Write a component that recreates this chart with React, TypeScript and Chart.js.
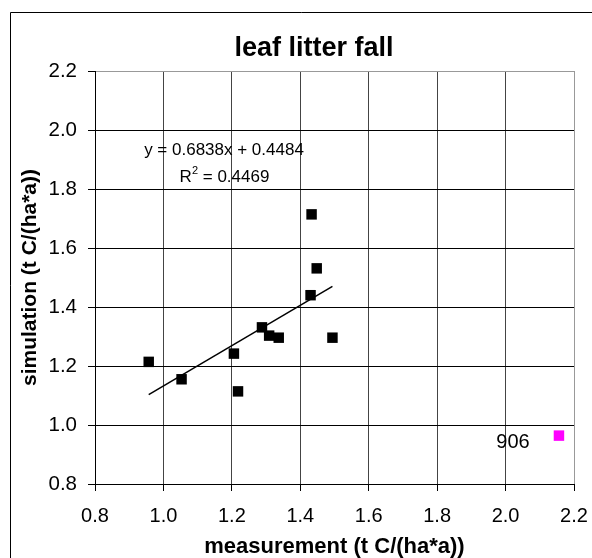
import React, { useEffect, useRef } from 'react';
import { Chart, registerables } from 'chart.js';

Chart.register(...registerables);

const FONT = "'Liberation Sans', Arial, sans-serif";

const chartTitle = 'leaf litter fall';
const xAxisTitle = 'measurement (t C/(ha*a))';
const yAxisTitle = 'simulation (t C/(ha*a))';
const equationText = 'y = 0.6838x + 0.4484';
const r2Value = '0.4469';

// measured vs simulated points (black squares)
const measurement = [1.433, 1.448, 1.430, 1.288, 1.309, 1.337, 1.494, 1.206, 0.957, 1.053, 1.218];
const simulation = [1.714, 1.531, 1.440, 1.331, 1.303, 1.296, 1.296, 1.242, 1.214, 1.155, 1.114];

// labelled outlier (magenta square)
const outlierX = [2.156];
const outlierY = [0.964];
const outlierLabels = ['906'];

// linear trend line end points
const trendX = [0.957, 1.494];
const trendY = [1.103, 1.470];

const axisMin = 0.8;
const axisMax = 2.2;
const axisStep = 0.2;

const isTop = (v: number) => Math.abs(v - axisMax) < 1e-6;

const decorPlugin = {
  id: 'decor',
  afterDraw(chart: any) {
    const ctx = chart.ctx as CanvasRenderingContext2D;
    ctx.save();
    // outer frame
    ctx.strokeStyle = '#000';
    ctx.lineWidth = 1;
    ctx.beginPath();
    ctx.moveTo(10.5, 560);
    ctx.lineTo(10.5, 12.5);
    ctx.lineTo(600, 12.5);
    ctx.stroke();

    ctx.fillStyle = '#000';
    ctx.textBaseline = 'alphabetic';

    // title
    ctx.font = `bold 27px ${FONT}`;
    ctx.textAlign = 'center';
    ctx.fillText(chartTitle, 314, 56);

    // equation
    ctx.font = `17px ${FONT}`;
    ctx.fillText(equationText, 224, 154.5);

    // R² line
    const big = `17px ${FONT}`;
    const small = `11px ${FONT}`;
    ctx.font = big;
    const wR = ctx.measureText('R').width;
    const rest = ' = ' + r2Value;
    const wRest = ctx.measureText(rest).width;
    ctx.font = small;
    const w2 = ctx.measureText('2').width;
    const total = wR + w2 + wRest;
    const x0 = 224.5 - total / 2;
    ctx.textAlign = 'left';
    ctx.font = big;
    ctx.fillText('R', x0, 181.5);
    ctx.font = small;
    ctx.fillText('2', x0 + wR, 173.5);
    ctx.font = big;
    ctx.fillText(rest, x0 + wR + w2, 181.5);

    // outlier labels
    const meta = chart.getDatasetMeta(1);
    ctx.font = `20px ${FONT}`;
    ctx.textAlign = 'center';
    meta.data.forEach((pt: any, i: number) => {
      ctx.fillText(outlierLabels[i], pt.x - 46, pt.y + 12.6);
    });
    ctx.restore();
  },
};

export default function App() {
  const canvasRef = useRef<HTMLCanvasElement | null>(null);

  useEffect(() => {
    if (!canvasRef.current) return;
    const chart = new Chart(canvasRef.current, {
      type: 'scatter',
      data: {
        datasets: [
          {
            label: 'points',
            data: measurement.map((x, i) => ({ x, y: simulation[i] })),
            pointStyle: 'rect',
            pointRadius: 7.4,
            pointHoverRadius: 7.4,
            backgroundColor: '#000',
            borderWidth: 0,
          },
          {
            label: 'outlier',
            data: outlierX.map((x, i) => ({ x, y: outlierY[i] })),
            pointStyle: 'rect',
            pointRadius: 7.4,
            pointHoverRadius: 7.4,
            backgroundColor: '#FF00FF',
            borderWidth: 0,
          },
          {
            type: 'line',
            label: 'trend',
            data: trendX.map((x, i) => ({ x, y: trendY[i] })),
            borderColor: '#000',
            borderWidth: 1.5,
            pointRadius: 0,
            showLine: true,
            fill: false,
          } as any,
        ],
      },
      options: {
        responsive: false,
        animation: false,
        layout: { padding: { left: 0, top: 71, right: 18, bottom: 0 } },
        plugins: {
          legend: { display: false },
          tooltip: { enabled: false },
          title: { display: false },
        },
        scales: {
          x: {
            type: 'linear',
            min: axisMin,
            max: axisMax,
            afterFit: (s: any) => {
              s.height = 74;
              s.paddingLeft = 0;
              s.paddingRight = 0;
            },
            ticks: {
              stepSize: axisStep,
              padding: 13,
              color: '#000',
              font: { family: FONT, size: 20 },
              callback: (v: any) => Number(v).toFixed(1),
            },
            grid: {
              color: (c: any) => (isTop(c.tick?.value ?? 0) ? '#999' : '#444'),
              tickColor: '#000',
              tickLength: 7,
              lineWidth: 1,
            },
            border: { color: '#000', width: 1 },
            title: {
              display: true,
              text: xAxisTitle,
              color: '#000',
              font: { family: FONT, size: 22, weight: 'bold', lineHeight: 1 },
              padding: { top: 0, bottom: 0 },
            },
          },
          y: {
            type: 'linear',
            min: axisMin,
            max: axisMax,
            afterFit: (s: any) => {
              s.width = 95;
              s.paddingTop = 0;
              s.paddingBottom = 0;
            },
            ticks: {
              stepSize: axisStep,
              padding: 11,
              color: '#000',
              font: { family: FONT, size: 20.5 },
              callback: (v: any) => Number(v).toFixed(1),
            },
            grid: {
              color: (c: any) => (isTop(c.tick?.value ?? 0) ? '#999' : '#000'),
              tickColor: '#000',
              tickLength: 7,
              lineWidth: 1,
            },
            border: { color: '#000', width: 1 },
            title: {
              display: true,
              text: yAxisTitle,
              color: '#000',
              font: { family: FONT, size: 21, weight: 'bold', lineHeight: 1 },
              padding: { top: 19.5, bottom: 0 },
            },
          },
        },
      },
      plugins: [decorPlugin],
    });
    return () => chart.destroy();
  }, []);

  return (
    <div style={{ position: 'fixed', left: 0, top: 0, width: 592, height: 558, background: '#fff' }}>
      <canvas ref={canvasRef} width={592} height={558} style={{ display: 'block' }} />
    </div>
  );
}
